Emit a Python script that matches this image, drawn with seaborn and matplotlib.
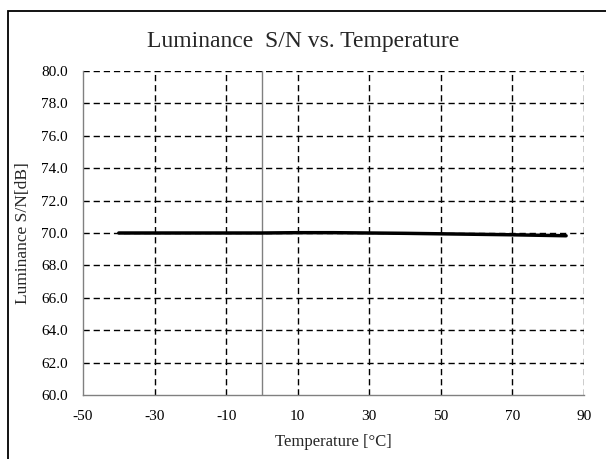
import matplotlib
matplotlib.use("Agg")
import matplotlib.pyplot as plt
import seaborn as sns
import pandas as pd
from matplotlib.patches import Rectangle

temperature = [-40, -30, -20, -10, 0, 10, 20, 30, 40, 50, 60, 70, 85]
sn_db = [70.0, 70.0, 70.0, 70.0, 70.0, 70.02, 70.02, 70.0, 69.98, 69.95, 69.92, 69.89, 69.83]
x_ticks = [-50, -30, -10, 10, 30, 50, 70, 90]
y_ticks = [60.0, 62.0, 64.0, 66.0, 68.0, 70.0, 72.0, 74.0, 76.0, 78.0, 80.0]

sns.set_theme(style="white")
plt.rcParams['font.family'] = ['Liberation Serif', 'DejaVu Serif']

df = pd.DataFrame({"Temperature": temperature, "SN": sn_db})

fig = plt.figure(figsize=(6.06, 4.59), dpi=100)
W, H = 606, 459
ax = fig.add_axes([83 / W, 1 - 395 / H, (584 - 83) / W, (395 - 71) / H])

# outer chart frame
fig.patches.append(Rectangle((8 / W, -0.1), 1.2, 1 - 11 / H + 0.1, transform=fig.transFigure,
                             fill=False, edgecolor="black", linewidth=1.3, zorder=0))

ax.set_xlim(-50, 90)
ax.set_ylim(60, 80)
ax.set_xticks(x_ticks)
ax.set_yticks(y_ticks)
ax.set_xticklabels([str(t) for t in x_ticks])
ax.set_yticklabels([f"{t:.1f}" for t in y_ticks])
ax.tick_params(axis="both", length=0, labelsize=11, colors="black", pad=11)

dash = (0, (4.5, 2.8))
for xv in x_ticks[1:]:
    ax.axvline(xv, color="black", linestyle=dash, linewidth=1.0, zorder=1)
for yv in y_ticks[1:]:
    ax.axhline(yv, color="black", linestyle=dash, linewidth=1.0, zorder=1)
# value axis crossing at 0
ax.axvline(0, color="#808080", linewidth=1.0, zorder=1.5)

for side in ["top", "right"]:
    ax.spines[side].set_visible(False)
for side in ["left", "bottom"]:
    ax.spines[side].set_color("#808080")
    ax.spines[side].set_linewidth(1.0)

sns.lineplot(data=df, x="Temperature", y="SN", ax=ax, color="black", linewidth=2.5, zorder=3)

ax.set_xlabel("Temperature [°C]", fontsize=12, labelpad=8)
ax.set_ylabel("Luminance S/N[dB]", fontsize=12.5, labelpad=7)
fig.suptitle("Luminance  S/N vs. Temperature", fontsize=17, y=1 - 42 / H, va="center")

fig.savefig("out.png", dpi=100)
